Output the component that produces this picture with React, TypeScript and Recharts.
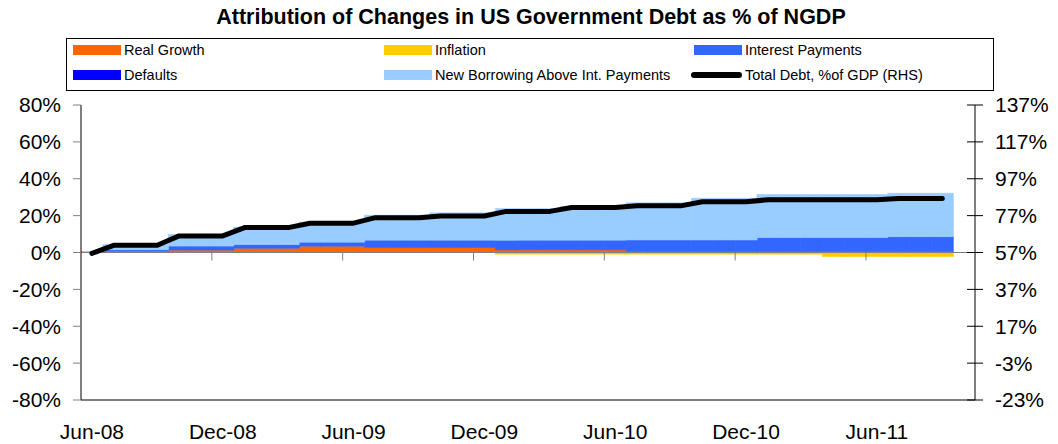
import { Bar, ComposedChart, Line, ReferenceLine, XAxis, YAxis } from "recharts";

// months on the category axis (Jun-08 .. Oct-11)
const months = [
  "Jun-08", "Jul-08", "Aug-08", "Sep-08", "Oct-08", "Nov-08", "Dec-08",
  "Jan-09", "Feb-09", "Mar-09", "Apr-09", "May-09", "Jun-09", "Jul-09", "Aug-09", "Sep-09", "Oct-09", "Nov-09", "Dec-09",
  "Jan-10", "Feb-10", "Mar-10", "Apr-10", "May-10", "Jun-10", "Jul-10", "Aug-10", "Sep-10", "Oct-10", "Nov-10", "Dec-10",
  "Jan-11", "Feb-11", "Mar-11", "Apr-11", "May-11", "Jun-11", "Jul-11", "Aug-11", "Sep-11", "Oct-11",
];
const shownLabels = ["Jun-08", "Dec-08", "Jun-09", "Dec-09", "Jun-10", "Dec-10", "Jun-11"];

// contributions, % of NGDP (left axis)
const realGrowth = [
  0.1, 0.7, 0.7, 0.7, 1.3, 1.3, 1.3, 2.3, 2.3, 2.3, 3.4, 3.4, 3.4, 2.7, 2.7, 2.7, 2.7, 2.7, 2.7,
  1.4, 1.4, 1.4, 1.4, 1.4, 1.4, 0.5, 0.5, 0.5, 0.5, 0.5, 0.5, 0.4, 0.4, 0.4, 0.4, 0.4, 0.4, 0.4, 0.4, 0.4, null,
];
const inflation = [
  0, 0, 0, 0, 0, 0, 0, 0, 0, 0, 0, 0, 0, 0, 0, 0, 0, 0, 0,
  -0.9, -0.9, -0.9, -0.9, -0.9, -0.9, -0.9, -0.9, -0.9, -0.9, -0.9, -0.9, -0.9, -0.9, -0.9, -2.2, -2.2, -2.2, -2.2, -2.2, -2.2, null,
];
const interestPayments = [
  0.1, 0.8, 0.8, 0.8, 2.2, 2.2, 2.2, 2.0, 2.0, 2.0, 2.2, 2.2, 2.2, 4.0, 4.0, 4.0, 4.0, 4.0, 4.0,
  5.3, 5.3, 5.3, 5.3, 5.3, 5.3, 6.3, 6.3, 6.3, 6.3, 6.3, 6.3, 7.7, 7.7, 7.7, 7.7, 7.7, 7.7, 8.2, 8.2, 8.2, null,
];
const defaults = [
  0, 0, 0, 0, 0, 0, 0, 0, 0, 0, 0, 0, 0, 0, 0, 0, 0, 0, 0,
  0, 0, 0, 0, 0, 0, 0, 0, 0, 0, 0, 0, 0, 0, 0, 0, 0, 0, 0, 0, 0, null,
];
const newBorrowing = [
  0.2, 2.8, 2.8, 2.8, 6.3, 6.3, 6.3, 9.4, 9.4, 9.4, 10.8, 10.8, 10.8, 13.5, 13.5, 13.5, 14.8, 14.8, 14.8,
  17.1, 17.1, 17.1, 18.3, 18.3, 18.3, 20.2, 20.2, 20.2, 22.6, 22.6, 22.6, 23.4, 23.4, 23.4, 23.4, 23.4, 23.4, 23.5, 23.5, 23.5, null,
];
// total debt, % of GDP (right axis)
const totalDebt = [
  56.5, 60.9, 60.9, 60.9, 66.0, 66.0, 66.0, 70.5, 70.5, 70.5, 72.9, 72.9, 72.9, 75.9, 75.9, 75.9, 76.8, 76.8, 76.8,
  79.3, 79.3, 79.3, 81.4, 81.4, 81.4, 82.3, 82.3, 82.3, 84.5, 84.5, 84.5, 85.6, 85.6, 85.6, 85.6, 85.6, 85.6, 86.3, 86.3, 86.3, null,
];

const leftTicks = [-80, -60, -40, -20, 0, 20, 40, 60, 80];
const rightTicks = [-23, -3, 17, 37, 57, 77, 97, 117, 137];

const data = months.map((month, i) => ({
  month,
  realGrowth: realGrowth[i],
  inflation: inflation[i],
  interestPayments: interestPayments[i],
  defaults: defaults[i],
  newBorrowing: newBorrowing[i],
  totalDebt: totalDebt[i],
}));

const FONT = "Arial, 'Liberation Sans', sans-serif";
const W = 1058;
const H = 444;
const MARGIN = { top: 105, right: 13, bottom: 4, left: 11 };
const AXIS_W = 70;
const XAXIS_H = 40;
const PLOT_LEFT = MARGIN.left + AXIS_W;
const PLOT_W = W - MARGIN.left - MARGIN.right - 2 * AXIS_W;
const PLOT_BOTTOM = H - MARGIN.bottom - XAXIS_H;
const ZERO_Y = (MARGIN.top + PLOT_BOTTOM) / 2;
const BAND = PLOT_W / months.length;

function MonthTick(props: any) {
  const { x, payload } = props;
  const left = x - BAND / 2;
  return (
    <g>
      {left > PLOT_LEFT + 1 && (
        <line x1={left} x2={left} y1={ZERO_Y} y2={ZERO_Y + 8} stroke="#808080" />
      )}
      <text x={x} y={H - 5} textAnchor="middle" fontSize={21} fontFamily={FONT} fill="#000">
        {payload.value}
      </text>
    </g>
  );
}

// right axis ticks cross the axis line
function RightTick(props: any) {
  const { y, payload } = props;
  const axisX = W - MARGIN.right - AXIS_W;
  return (
    <g>
      <line x1={axisX - 8} x2={axisX + 8} y1={y} y2={y} stroke="#000" />
      <text x={axisX + 20} y={y} dy="0.355em" textAnchor="start" fontSize={21} fontFamily={FONT} fill="#000">
        {`${payload.value}%`}
      </text>
    </g>
  );
}

const legendItems = [
  { label: "Real Growth", color: "#FF6600", x: 73, row: 0 },
  { label: "Inflation", color: "#FFCC00", x: 384, row: 0 },
  { label: "Interest Payments", color: "#3366FF", x: 694, row: 0 },
  { label: "Defaults", color: "#0000FF", x: 73, row: 1 },
  { label: "New Borrowing Above Int. Payments", color: "#99CCFF", x: 384, row: 1 },
  { label: "Total Debt, %of GDP (RHS)", color: "#000", x: 694, row: 1, line: true },
];

const series = [
  { key: "realGrowth", color: "#FF6600" },
  { key: "inflation", color: "#FFCC00" },
  { key: "interestPayments", color: "#3366FF" },
  { key: "defaults", color: "#0000FF" },
  { key: "newBorrowing", color: "#99CCFF" },
];

export default function App() {
  return (
    <div style={{ position: "absolute", left: 0, top: 0, width: W, height: H, fontFamily: FONT }}>
      <div
        style={{
          position: "absolute", left: 0, top: 6, width: 1062, textAlign: "center",
          fontWeight: "bold", fontSize: 21.5, lineHeight: "22px", color: "#000",
        }}
      >
        Attribution of Changes in US Government Debt as % of NGDP
      </div>
      <div
        style={{
          position: "absolute", left: 66, top: 38, width: 928, height: 53,
          border: "1px solid #000", boxSizing: "border-box",
        }}
      />
      {legendItems.map((it) => {
        const cy = it.row === 0 ? 50 : 75;
        return (
          <div key={it.label}>
            {it.line ? (
              <div style={{ position: "absolute", left: it.x - 3, top: cy - 3, width: 51, height: 6, borderRadius: 3, background: "#000" }} />
            ) : (
              <div style={{ position: "absolute", left: it.x, top: cy - 5, width: 48, height: 10, background: it.color }} />
            )}
            <div style={{ position: "absolute", left: it.x + 51, top: cy - 9, fontSize: 14.5, lineHeight: "18px", color: "#000", whiteSpace: "nowrap" }}>
              {it.label}
            </div>
          </div>
        );
      })}
      <ComposedChart
        width={W}
        height={H}
        data={data}
        margin={MARGIN}
        barCategoryGap={0}
        barGap={0}
        stackOffset="sign"
      >
        <XAxis
          dataKey="month"
          ticks={shownLabels}
          interval={0}
          tickLine={false}
          axisLine={{ stroke: "#000" }}
          height={XAXIS_H}
          tick={<MonthTick />}
        />
        <YAxis
          yAxisId="left"
          width={AXIS_W}
          domain={[-80, 80]}
          ticks={leftTicks}
          interval={0}
          tickFormatter={(v) => `${v}%`}
          axisLine={{ stroke: "#000" }}
          tickLine={{ stroke: "#808080" }}
          tickSize={8}
          tickMargin={12}
          tick={{ fill: "#000", fontSize: 21, fontFamily: FONT }}
        />
        <YAxis
          yAxisId="right"
          orientation="right"
          width={AXIS_W}
          domain={[-23, 137]}
          ticks={rightTicks}
          interval={0}
          axisLine={{ stroke: "#000" }}
          tickLine={false}
          tick={<RightTick />}
        />
        {series.map((s) => (
          <Bar
            key={s.key}
            yAxisId="left"
            dataKey={s.key}
            stackId="a"
            fill={s.color}
            stroke={s.color}
            strokeWidth={0.6}
            isAnimationActive={false}
          />
        ))}
        <ReferenceLine yAxisId="left" y={0} stroke="#808080" />
        <Line
          yAxisId="right"
          dataKey="totalDebt"
          type="linear"
          stroke="#000"
          strokeWidth={5}
          strokeLinecap="round"
          strokeLinejoin="round"
          dot={false}
          isAnimationActive={false}
        />
      </ComposedChart>
    </div>
  );
}
